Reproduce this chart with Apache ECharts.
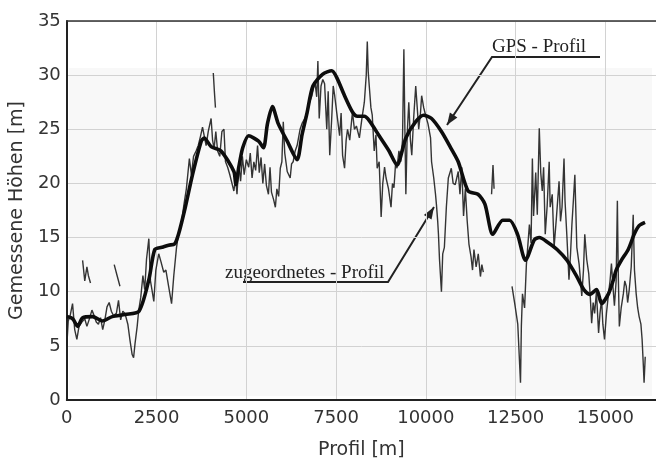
<!DOCTYPE html>
<html>
<head>
<meta charset="utf-8">
<script src="https://cdn.jsdelivr.net/npm/echarts@6/dist/echarts.min.js"></script>
<style>
html, body { margin: 0; padding: 0; background: #fff; }
#main { width: 656px; height: 465px; }
</style>
</head>
<body>
<div id="main"></div>
<script>
// GPS - Profil (thick smooth line)
var gpsX = [0,165,303,440,716,991,1266,1624,2010,2285,2450,2643,2836,3000,3111,3300,3500,3744,3827,4019,4295,4653,4708,4790,4900,5066,5341,5478,5588,5726,5891,6139,6414,6552,6690,6855,7130,7378,7516,7736,7956,8094,8287,8424,8699,8975,9195,9443,9718,9938,10159,10434,10709,10902,11177,11452,11645,11865,12141,12333,12554,12774,13022,13159,13380,13655,13930,14205,14398,14563,14756,14894,15086,15224,15300,15445,15637,15802,15940,16105];
var gpsY = [7.7,7.5,6.8,7.6,7.7,7.3,7.7,7.9,8.2,11.1,13.9,14.1,14.3,14.4,15.3,17.8,20.8,23.9,24.2,23.4,23.0,21.1,19.9,21.5,23.3,24.4,23.9,23.3,25.5,27.1,25.5,23.9,22.2,24.5,26.5,29.0,30.1,30.4,29.8,28.1,26.6,26.2,26.2,25.8,24.4,23.0,21.7,24.2,25.7,26.3,26.0,24.8,23.2,22.0,19.3,19.0,18.1,15.3,16.6,16.6,15.3,12.9,14.8,15.0,14.6,13.9,12.9,11.4,10.2,9.75,10.2,8.9,9.8,11.1,12.0,12.9,13.9,15.3,16.1,16.4];

// zugeordnetes - Profil (noisy line, '-' = gap)
var zugX = [0,40,100,160,220,280,340,420,500,560,620,700,760,820,880,940,1000,1060,1120,1180,1240,1300,1380,1440,1500,1560,1620,1700,1760,1820,1860,1900,1960,
  2000,2060,2120,2170,2220,2285,2330,2380,2423,2480,2560,2620,2700,2760,2836,2918,2980,3056,3111,3200,3260,3330,3414,3470,3530,3600,3661,3720,3780,3827,3880,3940,
  4019,4060,4102,4150,4200,4260,4320,4377,4420,4480,4540,4600,4653,4700,4740,4790,4840,4890,4940,5000,5066,5110,5160,5210,5260,5313,5360,5410,5460,5510,5560,5616,5660,5700,5760,5809,5850,5900,5946,5990,
  6029,6070,6139,6222,6260,6304,6360,6414,6497,6560,6630,6690,6760,6827,6910,6960,6993,7030,7080,7130,7180,7240,7280,7323,7378,7420,7461,7520,7598,7640,7681,7736,7780,7819,7880,7956,
  8010,8066,8149,8220,8287,8340,8369,8395,8424,8470,8507,8562,8610,8644,8700,8755,8800,8850,8892,8960,9030,9070,9112,9160,9195,9250,9300,9350,9388,9416,9443,9480,9525,9570,9608,9660,9718,9760,9801,9850,9883,9940,9993,
  10060,10131,10159,10220,10269,10296,10330,10351,10380,10406,10434,10470,10516,10571,10626,10709,10760,10819,10902,10950,11000,11050,11100,11150,11200,11260,11300,11340,11400,11460,11520,11560,11600,11650,
  12400,12480,12560,12636,12660,12691,12750,12800,12884,12930,12967,13000,13022,13060,13104,13159,13200,13242,13280,13325,13380,13435,13462,13520,13572,13640,13710,13750,13793,13848,13876,13930,13986,
  14030,14068,14110,14150,14205,14270,14343,14390,14426,14480,14536,14580,14618,14660,14701,14750,14811,14850,14894,14930,14976,15030,15086,15130,15169,15210,15252,15300,15334,15360,15389,15440,15500,15540,15582,15620,15665,15720,15775,15810,15858,15900,15940,15990,16023,16060,16078,16110,16120,
  440,500,560,600,660,670,
  1320,1400,1480,1490,
  4080,4110,4140,4150,
  11830,11870,11900];
var zugY = [5.0,7.3,7.9,8.9,6.5,5.6,6.8,7.2,7.5,6.8,7.4,8.3,7.8,7.2,7.0,7.6,6.5,7.4,8.6,9.0,8.2,7.8,8.0,9.2,7.4,8.2,8.0,7.0,5.5,4.2,3.9,5.2,6.8,
  8.2,9.5,11.5,10.2,13.0,14.9,11.0,10.0,9.1,12.0,13.5,12.8,11.8,12.0,10.5,8.9,11.5,14.1,15.3,16.5,18.0,19.5,22.3,20.8,22.5,23.0,23.5,24.3,25.2,25.1,23.5,24.8,
  26.0,24.0,23.2,24.8,23.0,22.5,24.8,25.0,22.0,21.5,20.8,20.0,19.3,20.5,19.0,21.8,20.2,22.5,20.8,22.2,21.5,22.8,20.5,22.0,21.2,23.5,21.0,22.4,20.0,21.8,19.8,19.0,21.5,19.2,18.5,17.8,19.5,18.8,21.4,22.0,
  25.7,22.8,21.1,20.5,21.8,22.0,23.0,23.5,25.0,25.6,26.0,26.6,27.5,28.1,29.4,28.0,31.3,26.0,29.0,29.6,29.2,25.0,28.5,22.6,26.0,29.0,28.1,26.5,24.4,26.5,22.6,21.4,24.0,25.0,24.0,26.6,
  25.0,25.3,24.2,26.0,27.5,30.0,33.1,30.3,29.0,27.0,26.3,23.0,24.5,21.4,22.0,16.9,20.0,21.5,20.5,19.5,17.8,20.0,19.6,22.0,21.4,23.0,22.0,24.0,32.4,25.0,19.0,24.5,27.5,24.0,22.6,26.0,29.0,27.0,25.0,26.5,28.1,27.0,26.3,
  25.5,24.2,22.0,20.5,19.0,18.0,16.5,15.3,13.0,12.9,10.0,13.5,14.1,17.8,20.5,21.4,20.0,19.9,21.1,19.0,21.5,17.0,19.5,16.6,14.4,13.2,12.0,13.9,12.3,13.5,11.4,12.5,11.8,'-',
  10.5,8.8,7.0,1.6,6.8,9.8,8.5,12.5,16.2,14.5,22.3,17.0,18.4,21.0,17.1,25.1,21.0,19.3,21.5,15.3,18.0,22.0,17.8,19.0,14.1,17.0,20.2,16.5,17.8,22.3,18.4,15.0,11.1,
  13.5,16.2,18.5,20.8,14.1,12.5,9.6,12.0,15.3,13.0,11.7,9.5,7.1,9.0,8.0,10.0,6.2,8.0,9.3,7.0,5.6,8.0,9.8,11.0,12.6,10.5,8.7,11.0,18.4,11.5,6.8,8.5,9.8,11.0,10.5,9.0,10.2,12.3,17.1,12.0,9.8,8.5,7.7,7.0,5.6,3.0,1.6,4.0,'-',
  12.9,11.0,12.3,11.5,10.8,'-',
  12.5,11.5,10.5,'-',
  30.2,28.5,27.0,'-',
  19.0,21.7,19.5];

// tick labels
var xTicks = [0, 2500, 5000, 7500, 10000, 12500, 15000];
var yTicks = [0, 5, 10, 15, 20, 25, 30, 35];

var gpsData = gpsX.map(function(x, i){ return [x, gpsY[i]]; });
var zugData = zugX.map(function(x, i){ return [x, zugY[i]]; });

var chart = echarts.init(document.getElementById('main'));

function arrowHead(x1, y1, x2, y2){
  var a = Math.atan2(y2 - y1, x2 - x1), L = 12, W = 4.5;
  var bx = x2 - L * Math.cos(a), by = y2 - L * Math.sin(a);
  return [[x2, y2], [bx + W * Math.sin(a), by - W * Math.cos(a)], [bx - W * Math.sin(a), by + W * Math.cos(a)]];
}

var annoStyle = { stroke: '#222', lineWidth: 2, fill: null };
var labelFont = 'DejaVu Sans';

var option = {
  animation: false,
  backgroundColor: '#fff',
  grid: { left: 64, top: 21, right: -4, bottom: 60 },
  xAxis: [
    {
      type: 'value', min: 0, max: 16410, interval: 2500,
      name: 'Profil [m]', nameLocation: 'middle', nameGap: 41,
      nameTextStyle: { fontFamily: labelFont, fontSize: 19, color: '#333' },
      axisLine: { show: true, onZero: false, lineStyle: { color: '#222', width: 2 } },
      axisTick: { show: false },
      axisLabel: {
        fontFamily: labelFont, fontSize: 18, color: '#333', margin: 9, showMaxLabel: false,
        formatter: function(v){ return xTicks.indexOf(v) >= 0 ? String(v) : ''; }
      },
      splitLine: { show: true, lineStyle: { color: '#d2d2d2', width: 1 } }
    },
    {
      // top frame line only
      type: 'value', position: 'top', min: 0, max: 16410,
      axisLine: { show: true, onZero: false, lineStyle: { color: '#333', width: 1.5 } },
      axisTick: { show: false }, axisLabel: { show: false }, splitLine: { show: false }
    }
  ],
  yAxis: {
    type: 'value', min: 0, max: 35, interval: 5,
    name: 'Gemessene Höhen [m]', nameLocation: 'middle', nameGap: 38,
    nameTextStyle: { fontFamily: labelFont, fontSize: 19, color: '#333' },
    axisLine: { show: true, lineStyle: { color: '#222', width: 2 } },
    axisTick: { show: false },
    axisLabel: {
      fontFamily: labelFont, fontSize: 18, color: '#333', margin: 6,
      formatter: function(v){ return yTicks.indexOf(v) >= 0 ? String(v) : ''; }
    },
    splitLine: { show: true, lineStyle: { color: '#d2d2d2', width: 1 } }
  },
  series: [
    {
      name: 'zugeordnetes - Profil', type: 'line', data: zugData,
      showSymbol: false, connectNulls: false, z: 3,
      lineStyle: { color: '#1e1e1e', width: 1.4, opacity: 0.9 }
    },
    {
      name: 'GPS - Profil', type: 'line', data: gpsData,
      showSymbol: false, smooth: 0.25, z: 4,
      lineStyle: { color: '#0d0d0d', width: 3.6 }
    }
  ],
  graphic: [
    { type: 'rect', z: -10, silent: true, shape: { x: 69, y: 68, width: 583, height: 328 }, style: { fill: '#f8f8f8' } },
    { type: 'text', x: 492, y: 47, style: { text: 'GPS - Profil', font: '19px "Liberation Serif"', fill: '#222', textVerticalAlign: 'middle' } },
    { type: 'polyline', shape: { points: [[600, 57], [492, 57], [447, 125]] }, style: annoStyle },
    { type: 'polygon', shape: { points: arrowHead(492, 57, 447, 125) }, style: { fill: '#222' } },
    { type: 'text', x: 225, y: 273, style: { text: 'zugeordnetes - Profil', font: '19px "Liberation Serif"', fill: '#222', textVerticalAlign: 'middle' } },
    { type: 'polyline', shape: { points: [[243, 282], [388, 282], [434, 207]] }, style: annoStyle },
    { type: 'polygon', shape: { points: arrowHead(388, 282, 434, 207) }, style: { fill: '#222' } }
  ]
};

chart.setOption(option);
</script>
</body>
</html>
